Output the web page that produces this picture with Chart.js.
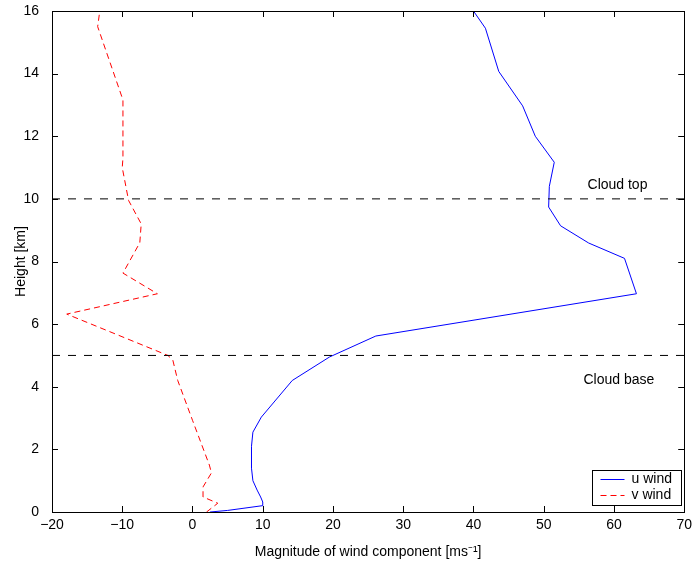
<!DOCTYPE html>
<html>
<head>
<meta charset="utf-8">
<script src="https://cdn.jsdelivr.net/npm/chart.js@4/dist/chart.umd.min.js"></script>
<style>
  html, body { margin: 0; padding: 0; background: #fff; }
  #wrap { width: 697px; height: 561px; }
</style>
</head>
<body>
<div id="wrap"><canvas id="windChart" width="697" height="561"></canvas></div>
<script>
// dados
const uHeights = [0, 0.05, 0.2, 0.32, 0.48, 0.7, 1.0, 1.4, 2.1, 2.55, 3.03, 4.2, 4.95, 5.62, 6.97, 8.1, 8.59, 9.14, 9.74, 10.4, 11.17, 12.0, 12.97, 14.07, 15.45, 16.0];
const uValues  = [2.5, 5.0, 9.9, 10.0, 9.7, 9.2, 8.6, 8.4, 8.4, 8.6, 9.8, 14.2, 19.5, 26.1, 63.2, 61.5, 56.4, 52.4, 50.7, 50.8, 51.5, 48.8, 47.0, 43.6, 41.7, 40.0];

const vHeights = [0, 0.28, 0.48, 0.8, 1.25, 1.5, 2.93, 4.2, 4.85, 5.0, 6.32, 6.97, 7.63, 8.6, 9.2, 9.95, 11.0, 11.3, 13.16, 15.5, 16.0];
const vValues  = [2.0, 3.6, 1.5, 1.5, 2.7, 2.4, 0.0, -2.1, -2.8, -3.5, -17.9, -5.0, -9.9, -7.5, -7.3, -9.1, -10.0, -9.9, -9.9, -13.5, -13.2];

const cloudBase = 5;
const cloudTop = 10;
const xTicks = [-20, -10, 0, 10, 20, 30, 40, 50, 60, 70];
const yTicks = [0, 2, 4, 6, 8, 10, 12, 14, 16];

const FONT = 'Liberation Sans, Arial, Helvetica, sans-serif';
const FS = 14;
const U_COLOR = '#0000ff';
const V_COLOR = '#ff0000';

function toPoints(xs, ys) {
  return xs.map((x, i) => ({ x: x, y: ys[i] }));
}

// ticks para dentro nos quatro lados + caixa
const boxTicks = {
  id: 'boxTicks',
  afterDraw(chart) {
    const ctx = chart.ctx;
    const a = chart.chartArea;
    const xs = chart.scales.x, ys = chart.scales.y;
    ctx.save();
    ctx.strokeStyle = '#000';
    ctx.lineWidth = 1;
    ctx.beginPath();
    xTicks.forEach(v => {
      const px = Math.round(xs.getPixelForValue(v)) + 0.5;
      ctx.moveTo(px, a.bottom); ctx.lineTo(px, a.bottom - 6);
      ctx.moveTo(px, a.top); ctx.lineTo(px, a.top + 6);
    });
    yTicks.forEach(v => {
      const py = Math.round(ys.getPixelForValue(v)) + 0.5;
      ctx.moveTo(a.left, py); ctx.lineTo(a.left + 6, py);
      ctx.moveTo(a.right, py); ctx.lineTo(a.right - 6, py);
    });
    ctx.stroke();
    ctx.strokeRect(Math.round(a.left) + 0.5, Math.round(a.top) + 0.5,
      Math.round(a.right - a.left), Math.round(a.bottom - a.top));

    // textos das nuvens
    ctx.fillStyle = '#000';
    ctx.font = FS + 'px ' + FONT;
    ctx.textAlign = 'center';
    ctx.textBaseline = 'middle';
    ctx.fillText('Cloud top', xs.getPixelForValue(60.5), ys.getPixelForValue(10.45));
    ctx.fillText('Cloud base', xs.getPixelForValue(60.7), ys.getPixelForValue(4.2));

    // legenda no canto inferior direito
    const items = [
      { label: 'u wind', color: U_COLOR, dash: [] },
      { label: 'v wind', color: V_COLOR, dash: [6, 4] }
    ];
    const bx = 592.5, by = 470.5, bw = 89, bh = 35;
    ctx.fillStyle = '#fff';
    ctx.fillRect(bx, by, bw, bh);
    ctx.strokeStyle = '#000';
    ctx.strokeRect(bx, by, bw, bh);
    items.forEach((d, i) => {
      const ly = by + 9 + i * 16;
      ctx.strokeStyle = d.color;
      ctx.setLineDash(d.dash);
      ctx.beginPath();
      ctx.moveTo(bx + 8, ly); ctx.lineTo(bx + 32, ly);
      ctx.stroke();
      ctx.setLineDash([]);
      ctx.fillStyle = '#000';
      ctx.textAlign = 'left';
      ctx.fillText(d.label, bx + 39, ly);
    });
    ctx.restore();
  }
};

new Chart(document.getElementById('windChart'), {
  type: 'scatter',
  data: {
    datasets: [
      {
        label: 'cloud base',
        data: toPoints([-20, 70], [cloudBase, cloudBase]),
        showLine: true, borderColor: '#000', borderWidth: 1, borderDash: [8, 8],
        pointRadius: 0
      },
      {
        label: 'cloud top',
        data: toPoints([-20, 70], [cloudTop, cloudTop]),
        showLine: true, borderColor: '#000', borderWidth: 1, borderDash: [8, 8],
        pointRadius: 0
      },
      {
        label: 'u wind',
        data: toPoints(uValues, uHeights),
        showLine: true, borderColor: U_COLOR, borderWidth: 1,
        pointRadius: 0, tension: 0
      },
      {
        label: 'v wind',
        data: toPoints(vValues, vHeights),
        showLine: true, borderColor: V_COLOR, borderWidth: 1, borderDash: [6, 4],
        pointRadius: 0, tension: 0
      }
    ]
  },
  options: {
    responsive: false,
    animation: false,
    layout: { padding: { left: 0, right: 10, top: 11, bottom: 0 } },
    plugins: {
      legend: { display: false },
      tooltip: { enabled: false }
    },
    scales: {
      x: {
        type: 'linear', min: -20, max: 70,
        afterBuildTicks: s => { s.ticks = xTicks.map(v => ({ value: v })); },
        afterFit: s => { s.height = 49; },
        grid: { drawOnChartArea: false, drawTicks: false },
        border: { display: false },
        ticks: { color: '#000', font: { family: FONT, size: FS }, padding: 5,
          callback: v => String(v).replace('-', '\u2212') },
        title: { display: true, text: 'Magnitude of wind component [ms\u207B\u00B9]',
          color: '#000', font: { family: FONT, size: FS }, padding: { top: 3.5, bottom: 0 } }
      },
      y: {
        type: 'linear', min: 0, max: 16,
        afterBuildTicks: s => { s.ticks = yTicks.map(v => ({ value: v })); },
        afterFit: s => { s.width = 52; s.paddingTop = 0; s.paddingBottom = 0; },
        grid: { drawOnChartArea: false, drawTicks: false },
        border: { display: false },
        ticks: { color: '#000', font: { family: FONT, size: FS }, padding: 13 },
        title: { display: true, text: 'Height [km]', color: '#000',
          font: { family: FONT, size: FS }, padding: { top: 12.5, bottom: 0 } }
      }
    }
  },
  plugins: [boxTicks]
});
</script>
</body>
</html>
